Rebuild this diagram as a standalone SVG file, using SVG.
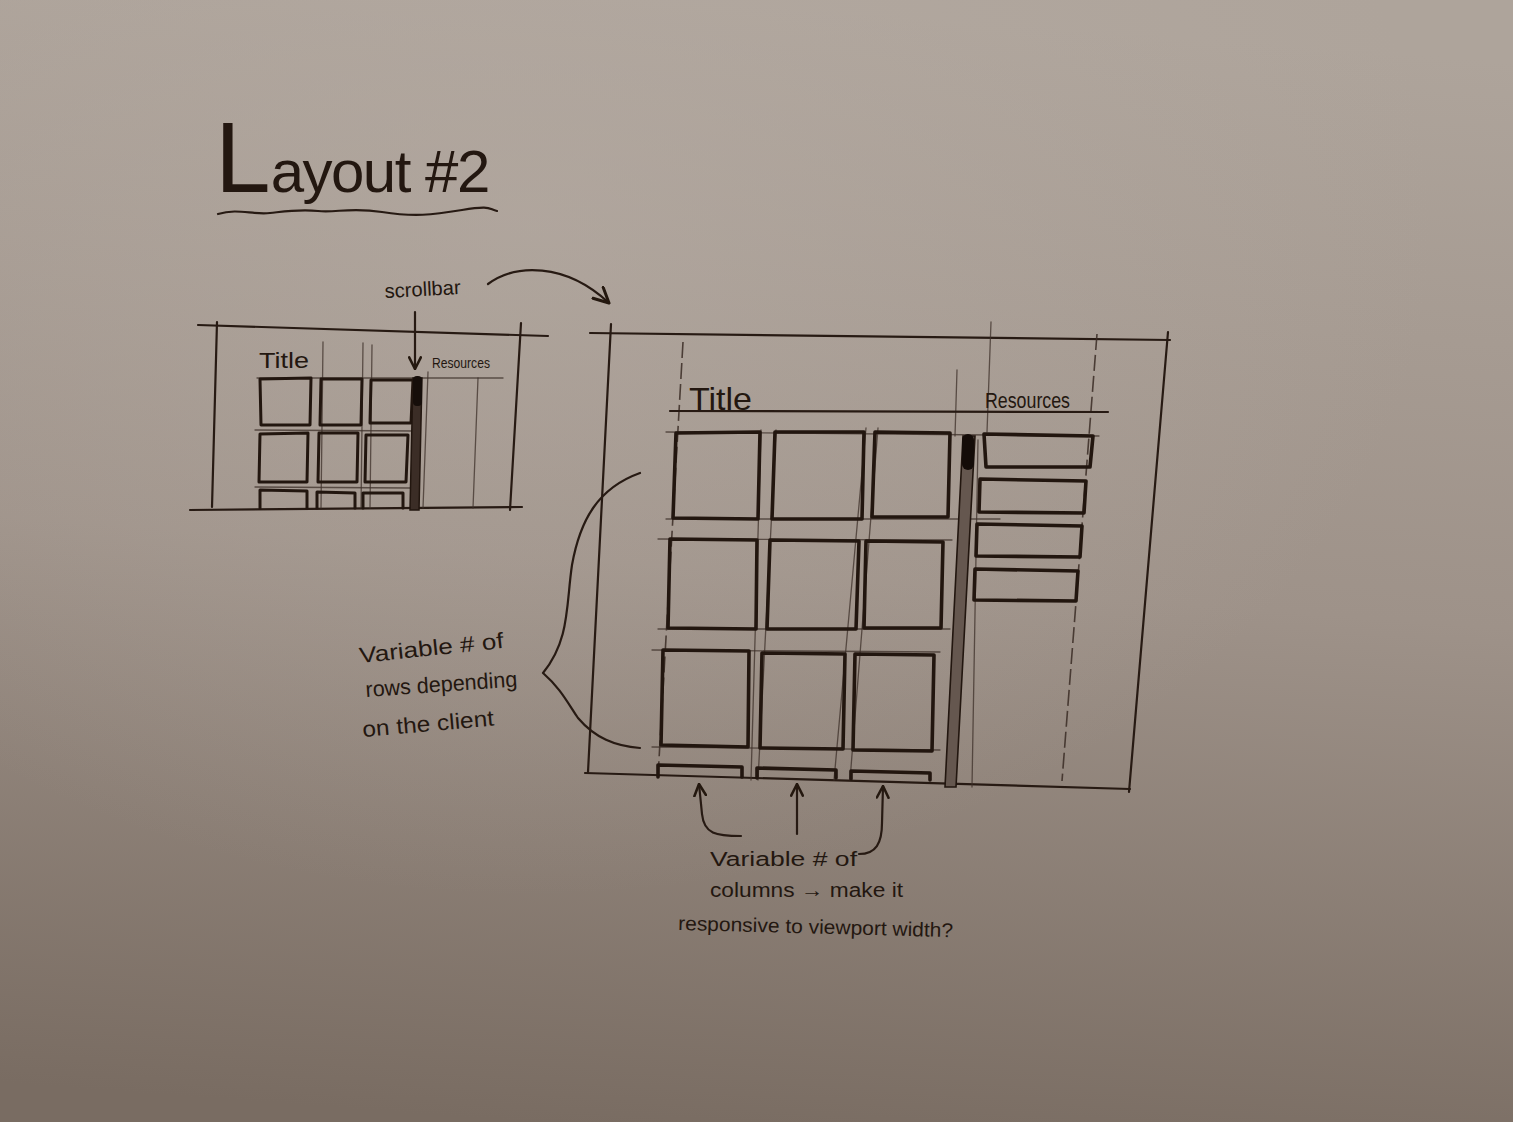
<svg xmlns="http://www.w3.org/2000/svg" width="1513" height="1122" viewBox="0 0 1513 1122">
<defs>
  <linearGradient id="paper" x1="0.45" y1="0" x2="0.35" y2="1">
    <stop offset="0" stop-color="#aea49b"/>
    <stop offset="0.5" stop-color="#9e9289"/>
    <stop offset="1" stop-color="#796c62"/>
  </linearGradient>
  <radialGradient id="glow" cx="0.35" cy="0.2" r="0.6">
    <stop offset="0" stop-color="#b6aca4" stop-opacity="0.55"/>
    <stop offset="1" stop-color="#b6aca4" stop-opacity="0"/>
  </radialGradient>
  <marker id="arr" viewBox="0 0 12 12" refX="11" refY="6" markerWidth="14" markerHeight="14" markerUnits="userSpaceOnUse" orient="auto">
    <path d="M1,1 L11,6 L1,11" fill="none" stroke="#24180f" stroke-width="2.2" stroke-linecap="round" stroke-linejoin="round"/>
  </marker>
  <marker id="arrB" viewBox="0 0 12 12" refX="11" refY="6" markerWidth="18" markerHeight="18" markerUnits="userSpaceOnUse" orient="auto">
    <path d="M1,1 L11,6 L1,11" fill="none" stroke="#24180f" stroke-width="2" stroke-linecap="round" stroke-linejoin="round"/>
  </marker>
</defs>
<style>
  .ink{fill:none;stroke:#271a13;stroke-width:2.2;stroke-linecap:round;stroke-linejoin:round}
  .cell{fill:none;stroke:#22160f;stroke-width:3.6;stroke-linejoin:round;stroke-linecap:round}
  .scell{fill:none;stroke:#22160f;stroke-width:3;stroke-linejoin:round;stroke-linecap:round}
  .thin{fill:none;stroke:#3e3029;stroke-width:1.3;stroke-linecap:round;opacity:0.75}
  .dash{fill:none;stroke:#3a2c25;stroke-width:1.6;stroke-dasharray:16 5;opacity:0.85}
  .hand{font-family:"Liberation Sans","DejaVu Sans",sans-serif;fill:#231710}
</style>
<rect width="1513" height="1122" fill="url(#paper)"/>
<rect width="1513" height="1122" fill="url(#glow)"/>

<g id="page-title">
  <text class="hand" x="215" y="192"><tspan font-size="100">L</tspan><tspan font-size="60" letter-spacing="-1.5">ayout #2</tspan></text>
  <path class="ink" stroke-width="2" d="M218,214 C238,208 252,215 270,213 S300,209 318,211 S350,207 382,212 S432,215 462,210 S488,209 497,211"/>
</g>

<g id="small-sketch">
  <path class="ink" d="M198,325 L548,336"/>
  <path class="ink" d="M217,322 L212,507"/>
  <path class="ink" d="M521,323 L510,510"/>
  <path class="ink" d="M190,510 L522,507"/>
  <path class="thin" d="M257,378 L503,378"/>
  <path class="thin" d="M323,342 L321,508 M363,343 L361,508 M372,345 L370,508 M428,372 L423,508 M478,378 L473,508"/>
  <path class="thin" d="M255,430 L415,431 M255,487 L410,488"/>
  <text class="hand" x="259" y="368" font-size="22" textLength="50" lengthAdjust="spacingAndGlyphs">Title</text>
  <text class="hand" x="432" y="368" font-size="15" textLength="58" lengthAdjust="spacingAndGlyphs">Resources</text>
  <polygon class="scell" points="260,379 311,378 310,425 261,425"/>
  <polygon class="scell" points="321,379 362,379 361,425 320,425"/>
  <polygon class="scell" points="371,380 413,380 411,423 370,423"/>
  <polygon class="scell" points="260,434 308,433 307,482 259,482"/>
  <polygon class="scell" points="319,433 358,433 357,482 318,482"/>
  <polygon class="scell" points="366,435 408,435 406,482 365,482"/>
  <path class="scell" d="M260,508 L260,490 L307,491 L307,508 M317,508 L317,492 L355,493 L355,508 M363,508 L363,493 L403,493 L403,508"/>
  <g id="small-scrollbar">
    <polygon points="413,378 422,378 419,510 410,510" fill="#3b2d26" stroke="#22160f" stroke-width="1.5"/>
    <rect x="413" y="376" width="9" height="30" rx="4" fill="#160e0a"/>
  </g>
  <text class="hand" x="385" y="298" font-size="20" textLength="76" lengthAdjust="spacingAndGlyphs" transform="rotate(-3 385 298)">scrollbar</text>
</g>

<g id="large-sketch">
  <path class="ink" d="M590,333 L1170,340"/>
  <path class="ink" d="M611,324 L588,772"/>
  <path class="ink" d="M1168,332 L1129,792"/>
  <path class="ink" d="M585,773 L1130,789"/>
  <path class="dash" d="M683,342 L658,777"/>
  <path class="dash" d="M1097,334 L1062,781"/>
  <path class="thin" d="M991,322 L987,432 M957,370 L955,436 M978,440 L972,787"/>
  <path class="ink" stroke-width="1.8" d="M670,411 L1108,412"/>
  <path class="thin" d="M666,432 L1099,436 M666,519 L1000,519 M658,539 L952,540 M658,629 L950,629 M652,650 L940,652 M652,747 L940,750"/>
  <path class="thin" d="M761,430 L751,780 M776,430 L758,780 M866,428 L834,780 M878,428 L850,780"/>
  <text class="hand" x="689" y="410" font-size="32" textLength="63" lengthAdjust="spacingAndGlyphs">Title</text>
  <text class="hand" x="985" y="408" font-size="22" textLength="85" lengthAdjust="spacingAndGlyphs">Resources</text>
  <polygon class="cell" points="676,433 760,432 758,519 673,518"/>
  <polygon class="cell" points="775,432 864,432 862,519 772,519"/>
  <polygon class="cell" points="875,432 950,433 948,517 872,517"/>
  <polygon class="cell" points="670,539 757,540 756,629 668,628"/>
  <polygon class="cell" points="770,540 859,541 856,629 767,629"/>
  <polygon class="cell" points="866,541 943,542 941,628 864,628"/>
  <polygon class="cell" points="663,650 749,651 748,747 661,745"/>
  <polygon class="cell" points="762,653 845,654 843,749 760,748"/>
  <polygon class="cell" points="855,654 934,655 932,751 853,750"/>
  <path class="cell" d="M658,777 L658,765 L742,767 L742,777 M757,778 L757,768 L836,770 L836,778 M851,779 L851,771 L930,773 L930,780"/>
  <g id="large-scrollbar">
    <polygon points="963,436 975,436 956,787 945,787" fill="#65574f" stroke="#22160f" stroke-width="1.6"/>
    <rect x="962" y="434" width="12" height="36" rx="6" fill="#140c08"/>
  </g>
  <polygon class="cell" stroke-width="3" points="984,434 1093,436 1090,467 986,467"/>
  <polygon class="cell" stroke-width="3" points="980,479 1086,481 1084,513 979,512"/>
  <polygon class="cell" stroke-width="3" points="977,524 1082,526 1080,557 976,556"/>
  <polygon class="cell" stroke-width="3" points="975,569 1078,571 1076,601 974,600"/>
</g>

<g id="rows-note">
  <text class="hand" x="360" y="663" font-size="22" textLength="145" lengthAdjust="spacingAndGlyphs" transform="rotate(-6 360 663)">Variable # of</text>
  <text class="hand" x="366" y="697" font-size="22" textLength="152" lengthAdjust="spacingAndGlyphs" transform="rotate(-4 366 697)">rows depending</text>
  <text class="hand" x="363" y="737" font-size="22" textLength="132" lengthAdjust="spacingAndGlyphs" transform="rotate(-5 363 737)">on the client</text>
</g>

<g id="columns-note">
  <text class="hand" x="710" y="866" font-size="20" textLength="147" lengthAdjust="spacingAndGlyphs">Variable # of</text>
  <text class="hand" x="710" y="897" font-size="20" textLength="193" lengthAdjust="spacingAndGlyphs">columns → make it</text>
  <text class="hand" x="678" y="930" font-size="20" textLength="275" lengthAdjust="spacingAndGlyphs" transform="rotate(1.5 678 930)">responsive to viewport width?</text>
</g>

<g id="connectors">
  <path class="ink" d="M415,312 L415,369" marker-end="url(#arr)"/>
  <path class="ink" d="M488,284 C515,264 565,262 609,303" marker-end="url(#arrB)"/>
  <path class="ink" d="M640,473 C598,488 580,520 572,565 C566,605 570,640 543,673 C560,688 566,700 578,718 C595,738 615,746 640,748"/>
  <path class="ink" d="M741,836 C716,836 704,834 702,814 L699,784" marker-end="url(#arr)"/>
  <path class="ink" d="M797,834 L797,784" marker-end="url(#arr)"/>
  <path class="ink" d="M859,854 C876,854 882,843 882,823 L883,786" marker-end="url(#arr)"/>
</g>
</svg>
